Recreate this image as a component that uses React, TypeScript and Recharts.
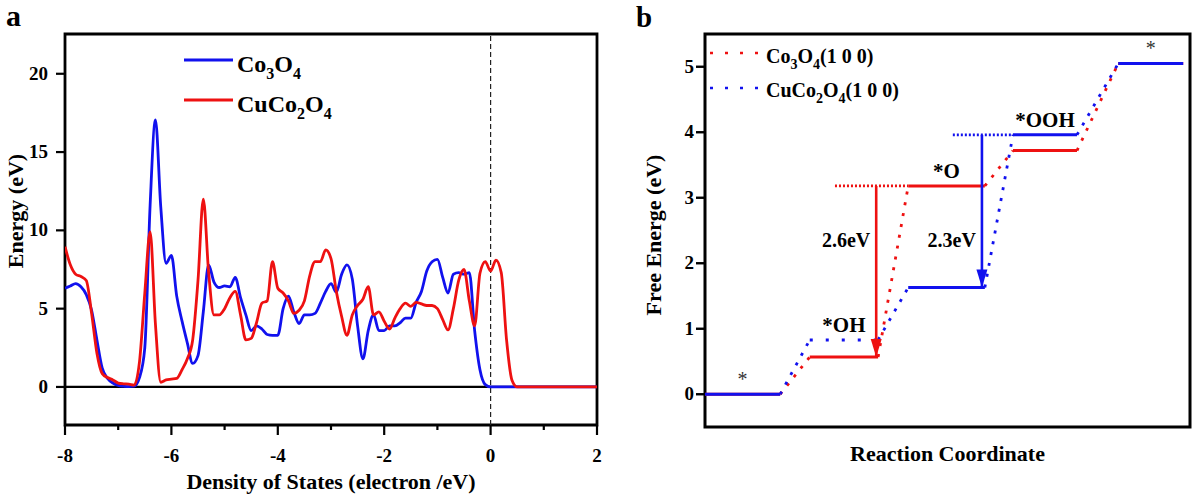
import {
  LineChart,
  Line,
  XAxis,
  YAxis,
  Label,
  Legend,
  ReferenceArea,
  ReferenceDot,
  ReferenceLine,
} from "recharts";

const SERIF = '"Liberation Serif", "Times New Roman", Times, serif';
const BLUE = "#1111ee";
const RED = "#ee1111";

// ---- (a) density of states ----
// energy grid: -8 ... 2 eV, 0.1 eV steps
const dosEnergy = Array.from({ length: 101 }, (_, i) => (i - 80) / 10);

const co3o4Dos = [
  6.3, 6.45, 6.6, 6.4, 5.9, 4.9, 3.0, 1.2, 0.55, 0.25,
  0.1, 0.05, 0.02, 0.05, 0.6, 2.5, 11.6, 17.05, 11.5, 7.9,
  8.4, 5.8, 4.2, 2.8, 1.5, 2.0, 4.8, 7.8, 6.7, 6.35,
  6.45, 6.4, 7.0, 5.7, 4.6, 3.6, 3.9, 3.7, 3.35, 3.3,
  3.3, 5.0, 5.8, 4.8, 4.05, 4.6, 4.6, 4.7, 5.35, 6.1,
  6.6, 6.05, 7.2, 7.8, 6.9, 3.9, 1.8, 3.6, 4.6, 3.6,
  3.6, 3.9, 3.9, 4.1, 4.4, 4.4, 5.4, 6.1, 7.4, 8.0,
  8.15, 7.0, 6.0, 7.2, 7.3, 7.2, 7.3, 3.6, 1.1, 0.15,
  0, 0, 0, 0, 0, 0, 0, 0, 0, 0,
  0, 0, 0, 0, 0, 0, 0, 0, 0, 0,
  0,
];

const cuco2o4Dos = [
  8.96, 7.8, 7.2, 7.05, 6.8, 4.7, 2.15, 0.85, 0.6, 0.45,
  0.25, 0.2, 0.18, 0.12, 1.6, 6.0, 9.9, 4.0, 0.3, 0.45,
  0.5, 0.55, 1.1, 1.8, 3.0, 6.8, 12.0, 7.3, 4.6, 4.6,
  5.0, 5.7, 6.1, 4.6, 3.0, 3.1, 4.1, 5.35, 5.5, 8.0,
  6.3, 6.0, 5.5, 4.7, 4.9, 5.5, 7.1, 8.0, 8.0, 8.75,
  8.2, 6.1, 4.5, 3.3, 4.6, 5.2, 5.6, 6.4, 4.6, 4.8,
  4.2, 3.7, 4.4, 5.0, 5.35, 5.15, 5.4, 5.3, 5.2, 5.2,
  5.0, 4.3, 3.64, 5.0, 6.8, 7.5, 5.5, 3.9, 7.26, 8.0,
  7.4, 8.1, 7.3, 3.0, 0.45, 0, 0, 0, 0, 0,
  0, 0, 0, 0, 0, 0, 0, 0, 0, 0,
  0,
];

const dosXTicks = [-8, -7, -6, -5, -4, -3, -2, -1, 0, 1, 2];
const dosYTicks = [0, 5, 10, 15, 20];
const dosYDomain = [-2.43, 22.54];
const dosLegend = [
  { name: "Co3O4", color: BLUE },
  { name: "CuCo2O4", color: RED },
];

const dosRows = dosEnergy.map((e, i) => ({
  e,
  co3o4: co3o4Dos[i],
  cuco2o4: cuco2o4Dos[i],
}));

// ---- (b) free energy diagram ----
const stateNames = ["*", "*OH", "*O", "*OOH", "*"];
const stepStart = [0, 2.16, 4.19, 6.35, 8.52];
const stepEnd = [1.55, 3.57, 5.77, 7.67, 9.86];
const co3o4Free = [0, 0.57, 3.18, 3.72, 5.05];
const cuco2o4Free = [0, 0.83, 1.63, 3.96, 5.05];
const gibbsYTicks = [0, 1, 2, 3, 4, 5];
const gibbsLegend = [
  { name: "Co3O4(1 0 0)", color: RED },
  { name: "CuCo2O4(1 0 0)", color: BLUE },
];
// rate-limiting steps: series, lower/upper state, arrow x, guide start x
const limitingSteps = [
  { free: co3o4Free, from: 1, to: 2, x: 3.53, guideFrom: 2.68, color: RED },
  { free: cuco2o4Free, from: 2, to: 3, x: 5.71, guideFrom: 5.11, color: BLUE },
];
const stepLabelY = 2.36;

const textStyle = { fontFamily: SERIF, fontWeight: 700, fill: "#000" };

// digits right after a letter are drawn as subscripts
function Formula({ text, size, sub }: { text: string; size: number; sub: number }) {
  const parts: { s: string; low: boolean }[] = [];
  for (let i = 0; i < text.length; i++) {
    const ch = text[i];
    const low = /\d/.test(ch) && /[A-Za-z]/.test(text[i - 1] ?? "");
    const last = parts[parts.length - 1];
    if (last && last.low === low) last.s += ch;
    else parts.push({ s: ch, low });
  }
  const shift = size * 0.28;
  return (
    <>
      {parts.map((p, i) => (
        <tspan
          key={i}
          fontSize={p.low ? sub : size}
          dy={p.low ? shift : i > 0 ? -shift : 0}
        >
          {p.s}
        </tspan>
      ))}
    </>
  );
}

function DosXTick(props: any) {
  const { x, y, payload } = props;
  const major = payload.value % 2 === 0;
  return (
    <g>
      <line x1={x} x2={x} y1={y} y2={y + (major ? 10 : 5)} stroke="#000" strokeWidth={2.2} />
      {major && (
        <text x={x} y={y + 37} textAnchor="middle" fontSize={19} {...textStyle}>
          {payload.value}
        </text>
      )}
    </g>
  );
}

function DosYTick(props: any) {
  const { x, y, payload } = props;
  return (
    <g>
      <line x1={x - 9} x2={x} y1={y} y2={y} stroke="#000" strokeWidth={2.2} />
      <text x={x - 17} y={y + 6} textAnchor="end" fontSize={19} {...textStyle}>
        {payload.value}
      </text>
    </g>
  );
}

function GibbsYTick(props: any) {
  const { x, y, payload } = props;
  return (
    <g>
      <line x1={x - 9} x2={x} y1={y} y2={y} stroke="#000" strokeWidth={2.4} />
      <text x={x - 11} y={y + 6} textAnchor="end" fontSize={19} {...textStyle}>
        {payload.value}
      </text>
    </g>
  );
}

function DosLegend() {
  return (
    <svg width={220} height={84}>
      {dosLegend.map((d, i) => (
        <g key={d.name}>
          <line x1={2} x2={51} y1={12 + i * 40} y2={12 + i * 40} stroke={d.color} strokeWidth={2.8} />
          <text x={55} y={24 + i * 40} fontSize={24} {...textStyle}>
            <Formula text={d.name} size={24} sub={16} />
          </text>
        </g>
      ))}
    </svg>
  );
}

function GibbsLegend() {
  return (
    <svg width={220} height={72}>
      {gibbsLegend.map((d, i) => (
        <g key={d.name}>
          <line
            x1={3}
            x2={58}
            y1={10 + i * 35}
            y2={10 + i * 35}
            stroke={d.color}
            strokeWidth={2.6}
            strokeDasharray="3 12"
          />
          <text x={59} y={20 + i * 34} fontSize={20} {...textStyle}>
            <Formula text={d.name} size={20} sub={14} />
          </text>
        </g>
      ))}
    </svg>
  );
}

function DosPanel() {
  return (
    <LineChart
      width={612}
      height={498}
      data={dosRows}
      margin={{ top: 34, right: 15, bottom: 23, left: 15 }}
    >
      <XAxis
        dataKey="e"
        type="number"
        domain={[-8, 2]}
        ticks={dosXTicks}
        interval={0}
        allowDataOverflow
        height={50}
        axisLine={false}
        tickLine={false}
        tickSize={0}
        tickMargin={0}
        tick={DosXTick}
      >
        <Label
          content={(p: any) => (
            <text
              x={p.viewBox.x + p.viewBox.width / 2}
              y={p.viewBox.y + 64}
              textAnchor="middle"
              fontSize={22}
              {...textStyle}
            >
              Density of States (electron /eV)
            </text>
          )}
        />
      </XAxis>
      <YAxis
        type="number"
        domain={dosYDomain}
        ticks={dosYTicks}
        interval={0}
        allowDataOverflow
        width={50}
        axisLine={false}
        tickLine={false}
        tickSize={0}
        tickMargin={0}
        tick={DosYTick}
      >
        <Label
          content={() => (
            <text
              x={23}
              y={211}
              transform="rotate(-90 23 211)"
              textAnchor="middle"
              fontSize={22}
              {...textStyle}
            >
              Energy (eV)
            </text>
          )}
        />
      </YAxis>
      <ReferenceLine y={0} stroke="#000" strokeWidth={2.2} />
      <ReferenceLine x={0} stroke="#222" strokeWidth={1.2} strokeDasharray="5 3" />
      <Line
        dataKey="co3o4"
        type="monotone"
        stroke={BLUE}
        strokeWidth={2.8}
        dot={false}
        isAnimationActive={false}
      />
      <Line
        dataKey="cuco2o4"
        type="monotone"
        stroke={RED}
        strokeWidth={2.8}
        dot={false}
        isAnimationActive={false}
      />
      <ReferenceArea
        x1={-8}
        x2={2}
        y1={dosYDomain[0]}
        y2={dosYDomain[1]}
        ifOverflow="visible"
        fill="none"
        stroke="#000"
        strokeWidth={2.8}
      />
      <Legend
        layout="vertical"
        align="center"
        verticalAlign="middle"
        content={() => <DosLegend />}
        wrapperStyle={{ left: 182, top: 48, width: 220 }}
      />
    </LineChart>
  );
}

function FreeEnergyPanel() {
  const levelMid = stepStart.map((s, i) => (s + stepEnd[i]) / 2);
  const series = [
    { free: co3o4Free, color: RED },
    { free: cuco2o4Free, color: BLUE },
  ];
  return (
    <LineChart width={602} height={498} margin={{ top: 34, right: 12, bottom: 31, left: 45 }}>
      <XAxis
        dataKey="x"
        type="number"
        domain={[0, 10]}
        allowDataOverflow
        height={40}
        axisLine={false}
        tickLine={false}
        tick={false}
      >
        <Label
          content={(p: any) => (
            <text
              x={p.viewBox.x + p.viewBox.width / 2}
              y={p.viewBox.y + 34}
              textAnchor="middle"
              fontSize={22}
              {...textStyle}
            >
              Reaction Coordinate
            </text>
          )}
        />
      </XAxis>
      <YAxis
        type="number"
        domain={[-0.5, 5.5]}
        ticks={gibbsYTicks}
        interval={0}
        allowDataOverflow
        width={60}
        axisLine={false}
        tickLine={false}
        tickSize={0}
        tickMargin={0}
        tick={GibbsYTick}
      >
        <Label
          content={() => (
            <text
              x={61}
              y={235}
              transform="rotate(-90 61 235)"
              textAnchor="middle"
              fontSize={22}
              {...textStyle}
            >
              Free Energe (eV)
            </text>
          )}
        />
      </YAxis>

      {series.map((s, k) =>
        stepStart.slice(1).map((start, i) => (
          <ReferenceLine
            key={`link-${k}-${i}`}
            segment={[
              { x: stepEnd[i], y: s.free[i] },
              { x: start, y: s.free[i + 1] },
            ]}
            stroke={s.color}
            strokeWidth={2.8}
            strokeDasharray="3 8"
          />
        ))
      )}

      {series.map((s, k) =>
        stepStart.map((start, i) => (
          <ReferenceLine
            key={`level-${k}-${i}`}
            segment={[
              { x: start, y: s.free[i] },
              { x: stepEnd[i], y: s.free[i] },
            ]}
            stroke={s.color}
            strokeWidth={3}
            // the CuCo2O4 *OH state is drawn dotted
            strokeDasharray={k === 1 && i === 1 ? "3 13" : undefined}
          />
        ))
      )}

      {limitingSteps.map((st, i) => (
        <ReferenceLine
          key={`guide-${i}`}
          segment={[
            { x: st.guideFrom, y: st.free[st.to] },
            { x: stepStart[st.to], y: st.free[st.to] },
          ]}
          stroke={st.color}
          strokeWidth={2.8}
          strokeDasharray="2 2"
        />
      ))}
      {limitingSteps.map((st, i) => (
        <ReferenceLine
          key={`shaft-${i}`}
          segment={[
            { x: st.x, y: st.free[st.to] },
            { x: st.x, y: st.free[st.from] },
          ]}
          stroke={st.color}
          strokeWidth={2.6}
        />
      ))}
      {limitingSteps.map((st, i) => (
        <ReferenceDot
          key={`head-${i}`}
          x={st.x}
          y={st.free[st.from]}
          r={0}
          shape={(p: any) => (
            <polygon
              points={`${p.cx - 5.5},${p.cy - 18} ${p.cx + 5.5},${p.cy - 18} ${p.cx},${p.cy}`}
              fill={st.color}
            />
          )}
        />
      ))}
      {limitingSteps.map((st, i) => (
        <ReferenceDot
          key={`gap-${i}`}
          x={st.x}
          y={stepLabelY}
          r={0}
          shape={(p: any) => (
            <text x={p.cx - 6} y={p.cy + 7} textAnchor="end" fontSize={20} {...textStyle}>
              {`${(st.free[st.to] - st.free[st.from]).toFixed(1)}eV`}
            </text>
          )}
        />
      ))}

      {stateNames.map((name, i) => (
        <ReferenceDot
          key={`state-${i}`}
          x={levelMid[i]}
          y={Math.max(co3o4Free[i], cuco2o4Free[i])}
          r={0}
          shape={(p: any) =>
            name === "*" ? (
              <text
                x={p.cx}
                y={p.cy - 8}
                textAnchor="middle"
                fontSize={20}
                fontFamily={SERIF}
                fill="#333"
              >
                {name}
              </text>
            ) : (
              <text x={p.cx} y={p.cy - 8} textAnchor="middle" fontSize={21} {...textStyle}>
                {name}
              </text>
            )
          }
        />
      ))}

      <ReferenceArea
        x1={0}
        x2={10}
        y1={-0.5}
        y2={5.5}
        ifOverflow="visible"
        fill="none"
        stroke="#000"
        strokeWidth={3}
      />
      <Legend
        layout="vertical"
        align="center"
        verticalAlign="middle"
        content={() => <GibbsLegend />}
        wrapperStyle={{ left: 107, top: 43, width: 220 }}
      />
    </LineChart>
  );
}

export default function App() {
  return (
    <div
      style={{
        position: "absolute",
        left: 0,
        top: 0,
        width: 1202,
        height: 498,
        background: "#fff",
        overflow: "hidden",
      }}
    >
      <div style={{ position: "absolute", left: 0, top: 0 }}>
        <DosPanel />
      </div>
      <div style={{ position: "absolute", left: 600, top: 0 }}>
        <FreeEnergyPanel />
      </div>
      <svg
        width={1202}
        height={498}
        style={{ position: "absolute", left: 0, top: 0, pointerEvents: "none" }}
      >
        <text x={6} y={26} fontSize={30} {...textStyle}>
          a
        </text>
        <text x={636} y={27} fontSize={29} {...textStyle}>
          b
        </text>
      </svg>
    </div>
  );
}
